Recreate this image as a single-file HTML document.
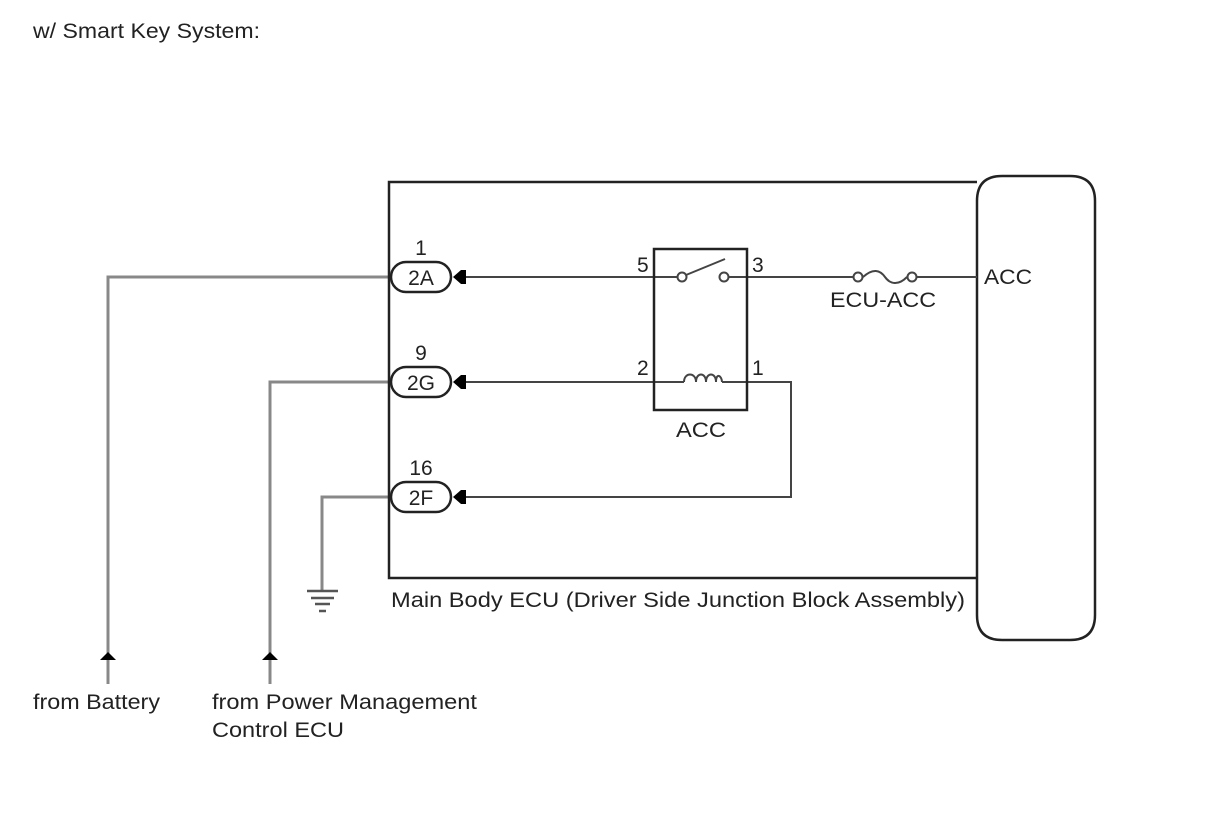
<!DOCTYPE html>
<html><head><style>body{margin:0;background:#fff}svg{display:block}text{font-family:"Liberation Sans",Arial,sans-serif;fill:#222}</style></head>
<body>
<svg width="1210" height="814" viewBox="0 0 1210 814" xmlns="http://www.w3.org/2000/svg">
<text x="33" y="38" font-size="21" textLength="227" lengthAdjust="spacingAndGlyphs">w/ Smart Key System:</text>
<g stroke="#888" stroke-width="3" fill="none">
<polyline points="391,277 108,277 108,684"/>
<polyline points="391,382 270,382 270,684"/>
<polyline points="391,497 322,497 322,590"/>
</g>
<g stroke="#555" stroke-width="2.5">
<line x1="307" y1="591" x2="338" y2="591"/>
<line x1="311" y1="598" x2="334" y2="598"/>
<line x1="315" y1="604" x2="330" y2="604"/>
<line x1="319" y1="611" x2="326" y2="611"/>
</g>
<polygon points="108,652 100,660 116,660" fill="#000"/>
<polygon points="270,652 262,660 278,660" fill="#000"/>
<polyline points="977,182 389,182 389,578 977,578" fill="none" stroke="#222" stroke-width="2.5"/>
<path d="M1002,176 H1070 Q1095,176 1095,201 V615 Q1095,640 1070,640 H1002 Q977,640 977,615 V201 Q977,176 1002,176 Z" fill="#fff" stroke="#222" stroke-width="2.5"/>
<g stroke="#444" stroke-width="2" fill="none">
<line x1="463" y1="277" x2="681" y2="277"/>
<line x1="729" y1="277" x2="853" y2="277"/>
<line x1="917" y1="277" x2="977" y2="277"/>
<line x1="463" y1="382" x2="684" y2="382"/>
<polyline points="722,382 791,382 791,497 463,497"/>
</g>
<rect x="654" y="249" width="93" height="161" fill="none" stroke="#222" stroke-width="2.5"/>
<g stroke="#444" stroke-width="2" fill="#fff">
<circle cx="682" cy="277" r="4.5"/>
<circle cx="724" cy="277" r="4.5"/>
<line x1="686" y1="275" x2="725" y2="259"/>
<path d="M684,382 C684,372 696,372 696,382 C696,372 706,372 706,382 C706,372 716,372 716,382 C716,372 722,376 722,382" fill="none"/>
<circle cx="858" cy="277" r="4.5"/>
<circle cx="912" cy="277" r="4.5"/>
<path d="M863,277 C873,268 880,270 885,277 C890,284 898,286 907,277" fill="none"/>
</g>
<g font-size="21">
<text x="637" y="272">5</text>
<text x="752" y="272">3</text>
<text x="637" y="375">2</text>
<text x="752" y="375">1</text>
<text x="676" y="437" textLength="50" lengthAdjust="spacingAndGlyphs">ACC</text>
<text x="830" y="307" textLength="106" lengthAdjust="spacingAndGlyphs">ECU-ACC</text>
<text x="984" y="284" textLength="48" lengthAdjust="spacingAndGlyphs">ACC</text>
<text x="391" y="607" textLength="574" lengthAdjust="spacingAndGlyphs">Main Body ECU (Driver Side Junction Block Assembly)</text>
<text x="33" y="709" textLength="127" lengthAdjust="spacingAndGlyphs">from Battery</text>
<text x="212" y="709" textLength="265" lengthAdjust="spacingAndGlyphs">from Power Management</text>
<text x="212" y="737" textLength="132" lengthAdjust="spacingAndGlyphs">Control ECU</text>
</g>
<g font-size="21">
<rect x="391" y="262" width="60" height="30" rx="15" fill="#fff" stroke="#222" stroke-width="2.5"/>
<text x="421" y="285" text-anchor="middle">2A</text>
<text x="421" y="255" text-anchor="middle">1</text>
<rect x="391" y="367" width="60" height="30" rx="15" fill="#fff" stroke="#222" stroke-width="2.5"/>
<text x="421" y="390" text-anchor="middle">2G</text>
<text x="421" y="360" text-anchor="middle">9</text>
<rect x="391" y="482" width="60" height="30" rx="15" fill="#fff" stroke="#222" stroke-width="2.5"/>
<text x="421" y="505" text-anchor="middle">2F</text>
<text x="421" y="475" text-anchor="middle">16</text>
</g>
<g fill="#000">
<path d="M453,277 L461,270 L466,270 L466,284 L461,284 Z"/>
<path d="M453,382 L461,375 L466,375 L466,389 L461,389 Z"/>
<path d="M453,497 L461,490 L466,490 L466,504 L461,504 Z"/>
</g>
</svg>
</body></html>
